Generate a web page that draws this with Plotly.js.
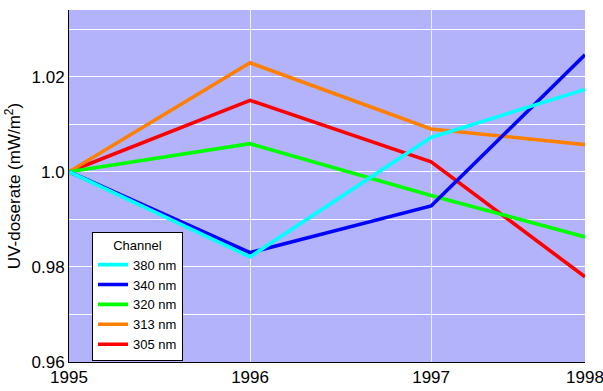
<!DOCTYPE html>
<html>
<head>
<meta charset="utf-8">
<script src="https://cdn.plot.ly/plotly-3.0.1.min.js"></script>
<style>html,body{margin:0;padding:0;background:#fff;}#chart{width:603px;height:391px;}</style>
</head>
<body>
<div id="chart"></div>
<script>
// Data
const xValues = [1995, 1996, 1997, 1997.85];
const xTickText = ['1995', '1996', '1997', '1998'];
const channels = ['380 nm', '340 nm', '320 nm', '313 nm', '305 nm'];
const ch380 = [1.000, 0.9821, 1.0072, 1.0173];
const ch340 = [1.000, 0.9830, 0.9928, 1.0246];
const ch320 = [1.000, 1.0059, 0.9950, 0.9863];
const ch313 = [1.000, 1.0229, 1.0090, 1.0057];
const ch305 = [1.000, 1.0150, 1.0021, 0.9779];
const yTickVals = [0.96, 0.98, 1.0, 1.02];
const yTickText = ['0.96', '0.98', '1.0', '1.02'];

const colors = ['#00ffff', '#0000ff', '#00ff00', '#ff8000', '#ff0000'];
const series = [ch380, ch340, ch320, ch313, ch305];

// draw 305 first so 380 ends on top; legend reversed to list 380 first
const traces = [];
for (let i = series.length - 1; i >= 0; i--) {
  traces.push({
    x: xValues, y: series[i], name: channels[i], type: 'scatter', mode: 'lines',
    line: {color: colors[i], width: 3.6}, cliponaxis: false
  });
}

const font = {family: 'Liberation Sans, Arial, sans-serif', color: '#000'};
const layout = {
  width: 603, height: 391,
  margin: {l: 69, r: 18, t: 10, b: 29, pad: 0},
  paper_bgcolor: '#ffffff',
  plot_bgcolor: '#b3b3fb',
  font: Object.assign({size: 17}, font),
  showlegend: true,
  legend: {
    x: 0.0446, y: 0.37, xanchor: 'left', yanchor: 'top',
    bgcolor: '#ffffff', bordercolor: '#000000', borderwidth: 1,
    traceorder: 'reversed',
    font: Object.assign({size: 13}, font),
    title: {text: 'Channel', side: 'top center', font: Object.assign({size: 13}, font)},
    itemwidth: 30
  },
  xaxis: {
    range: [1995, 1997.85],
    tickvals: xValues, ticktext: xTickText,
    ticklabeloverflow: 'allow',
    showgrid: true, gridcolor: '#f0f0ff', gridwidth: 1,
    zeroline: false, showline: true, linecolor: '#000', linewidth: 1,
    ticks: '', tickfont: Object.assign({size: 17}, font),
    fixedrange: true
  },
  yaxis: {
    range: [0.96, 1.034],
    tickvals: yTickVals, ticktext: yTickText,
    showgrid: true, gridcolor: '#ffffff', gridwidth: 1,
    minor: {dtick: 0.01, tick0: 0.96, showgrid: true, gridcolor: '#ffffff', gridwidth: 1, ticks: ''},
    zeroline: false, showline: true, linecolor: '#000', linewidth: 1,
    ticks: '', tickfont: Object.assign({size: 17}, font),
    title: {text: 'UV-doserate (mW/m<sup>2</sup>)', font: Object.assign({size: 17}, font), standoff: 6},
    fixedrange: true
  }
};

Plotly.newPlot('chart', traces, layout, {displayModeBar: false, staticPlot: true});
</script>
</body>
</html>
